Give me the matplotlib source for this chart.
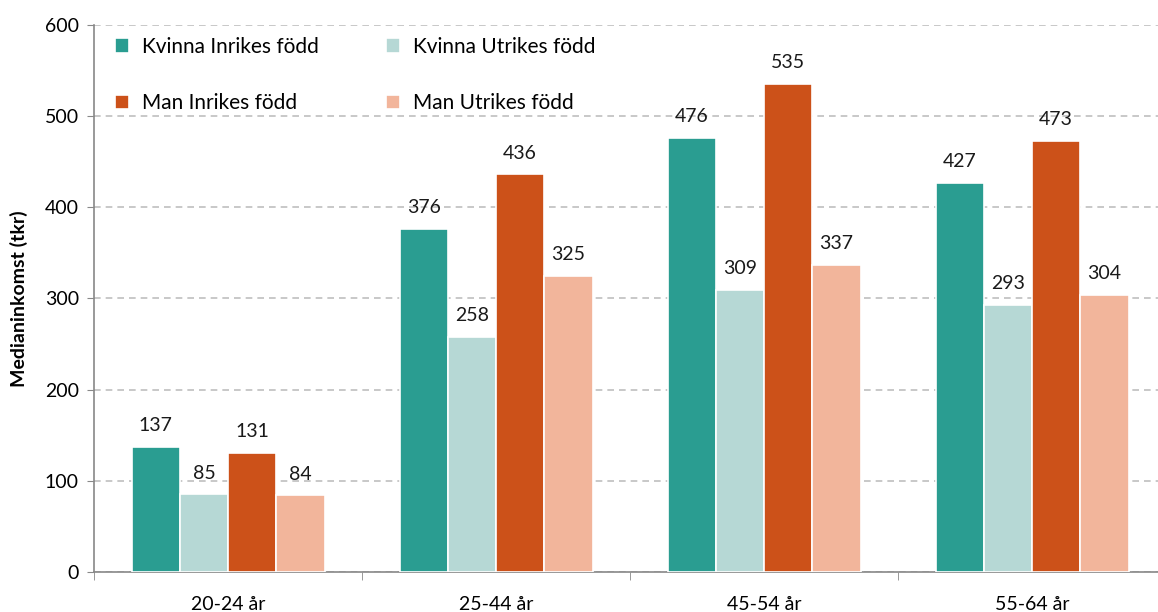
import numpy as np
import matplotlib.pyplot as plt

plt.rcParams['font.family'] = ['Lato', 'DejaVu Sans']

groups = ['20-24 år', '25-44 år', '45-54 år', '55-64 år']
series = ['Kvinna Inrikes född', 'Kvinna Utrikes född', 'Man Inrikes född', 'Man Utrikes född']
kvinna_inrikes = [137, 376, 476, 427]
kvinna_utrikes = [85, 258, 309, 293]
man_inrikes = [131, 436, 535, 473]
man_utrikes = [84, 325, 337, 304]
colors = ['#2A9D91', '#B6D8D5', '#CC5119', '#F2B59B']

values = [kvinna_inrikes, kvinna_utrikes, man_inrikes, man_utrikes]

fig = plt.figure(figsize=(11.58, 6.12), dpi=100)
ax = fig.add_axes([0.0812, 0.0654, 0.9188, 0.894])

x = np.arange(len(groups))
w = 0.18
handles = []
for i, (vals, lab, c) in enumerate(zip(values, series, colors)):
    pos = x + (i - 1.5) * w
    b = ax.bar(pos, vals, w, color=c, edgecolor='white', linewidth=1.2, label=lab, zorder=3)
    handles.append(b)
    for p, v in zip(pos, vals):
        ax.text(p, v + 14, str(v), ha='center', va='bottom', fontsize=14, color='#1a1a1a')

ax.set_xlim(-0.5, 3.47)
ax.set_ylim(0, 600)
ax.set_yticks(range(0, 601, 100))
ax.tick_params(axis='y', labelsize=14, length=5, color='#888888', pad=6)
ax.set_xticks(x)
ax.set_xticklabels(groups, fontsize=14)
ax.set_xticks(np.arange(-0.5, 3.0, 1.0), minor=True)
ax.tick_params(axis='x', which='major', length=0, pad=17)
ax.tick_params(axis='x', which='minor', length=6, color='#888888')
ax.yaxis.grid(True, linestyle=(0, (4, 3)), color='#BFBFBF', linewidth=1.2, zorder=0)
ax.set_axisbelow(True)
for s in ['top', 'right']:
    ax.spines[s].set_visible(False)
for s in ['left', 'bottom']:
    ax.spines[s].set_color('#888888')
    ax.spines[s].set_linewidth(1.2)
ax.set_ylabel('Medianinkomst (tkr)', fontsize=14, fontweight='bold', labelpad=12)

order = [0, 2, 1, 3]
ax.legend([handles[k] for k in order], [series[k] for k in order],
          ncol=2, loc='upper left', bbox_to_anchor=(0.002, 1.012), frameon=False,
          fontsize=15, handlelength=0.7, handleheight=0.7, handletextpad=0.6,
          columnspacing=3.2, labelspacing=1.75)

fig.savefig('out.png', dpi=100)
